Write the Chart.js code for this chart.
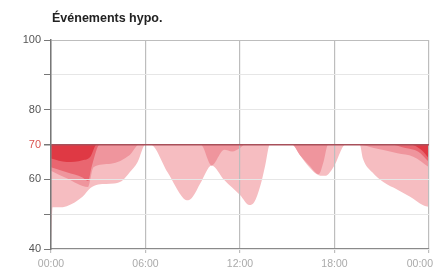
<!DOCTYPE html>
<html lang="fr">
<head>
<meta charset="utf-8">
<script src="https://cdn.jsdelivr.net/npm/chart.js@4"></script>
<style>
  html, body { margin: 0; padding: 0; background: #fff; }
  #cadre { width: 436px; height: 270px; position: relative; }
</style>
</head>
<body>
<div id="cadre"><canvas id="graphique"></canvas></div>
<script>
// Titre et seuil
const titre = 'Événements hypo.';
const seuilHypo = 70;

// Graduations
const graduationsY = [40, 50, 60, 70, 80, 90, 100];
const etiquettesY = [40, 60, 70, 80, 100];
const heuresX = [0, 6, 12, 18, 24];
const etiquettesX = ['00:00', '06:00', '12:00', '18:00', '00:00'];

// Courbe la plus basse (rose clair)
const heuresC1 = [0, 0.1, 0.5, 1, 2, 2.5, 3, 4, 4.5, 5, 5.5, 6, 6.3, 7.4, 8.4, 8.7, 9.0, 9.5, 10.2, 11.0, 12.0, 12.6, 12.9, 13.3, 13.6, 13.9, 15.3, 15.8, 16.4, 17.0, 17.4, 18.0, 18.7, 19.6, 19.8, 20.4, 21.1, 22.0, 22.8, 23.6, 24];
const valeursC1 = [40, 52, 52, 52.3, 55, 57.5, 58.5, 58.8, 59.5, 62, 65, 70, 70, 62, 54.6, 54, 55, 59, 64, 59.8, 55.5, 52.6, 53.4, 58.3, 64, 70, 70, 67, 63.5, 61.2, 61, 64, 70, 70, 66, 62, 59.2, 57, 55, 52.6, 52];

// Deuxième courbe (rose)
const heuresC2 = [0, 1, 2.35, 2.7, 3.8, 5.0, 5.6, 9.5, 10.2, 11.0, 11.5, 12.0, 12.3, 15.3, 15.8, 16.4, 17.0, 17.3, 17.6, 19.5, 20.5, 22.0, 23.0, 24];
const valeursC2 = [62.5, 60.3, 57.8, 63.5, 64.5, 67, 70, 70, 64, 68.5, 68, 69, 70, 70, 67, 64, 61.5, 65, 70, 70, 69, 67.5, 66.5, 63.5];

// Troisième courbe (rouge)
const heuresC3 = [0, 1, 2, 2.35, 2.6, 3.1, 21.5, 22.5, 23.3, 24];
const valeursC3 = [63.5, 62, 60.5, 59.5, 64, 70, 70, 69, 68, 65];

// Quatrième courbe (rouge foncé)
const heuresC4 = [0, 1, 2, 2.5, 2.9, 22.8, 23.5, 24];
const valeursC4 = [66, 65, 65.5, 66.5, 70, 70, 68.5, 66];

const couches = [
  { heures: heuresC1, valeurs: valeursC1, couleur: '#f6bdc1' },
  { heures: heuresC2, valeurs: valeursC2, couleur: '#ef959d' },
  { heures: heuresC3, valeurs: valeursC3, couleur: '#e96670' },
  { heures: heuresC4, valeurs: valeursC4, couleur: '#df3944' }
];

const police = '"Liberation Sans", Arial, sans-serif';

// Titre au-dessus de la zone, et dernière étiquette de l'axe x calée à droite
const titrePlugin = {
  id: 'titre',
  afterDraw(chart) {
    const c = chart.ctx;
    const sx = chart.scales.x;
    c.save();
    c.font = 'bold 12.5px ' + police;
    c.fillStyle = '#222';
    c.textBaseline = 'middle';
    c.fillText(titre, chart.chartArea.left + 1, chart.chartArea.top - 21);
    c.font = '10.5px ' + police;
    c.fillStyle = '#aaa';
    c.textAlign = 'right';
    c.textBaseline = 'top';
    c.fillText(etiquettesX[etiquettesX.length - 1], sx.getPixelForValue(heuresX[heuresX.length - 1]) + 4, sx.top + 10);
    c.restore();
  }
};

const ctx = document.getElementById('graphique').getContext('2d');
const graphique = new Chart(ctx, {
  type: 'line',
  data: {
    datasets: couches.map(function(c, i) {
      return {
        data: c.heures.map(function(h, j) { return { x: h, y: c.valeurs[j] }; }),
        backgroundColor: c.couleur,
        borderWidth: 0,
        pointRadius: 0,
        cubicInterpolationMode: 'monotone',
        fill: { value: seuilHypo },
        order: couches.length - i
      };
    })
  },
  options: {
    responsive: true,
    maintainAspectRatio: false,
    animation: false,
    layout: { padding: { top: 40, right: 7, bottom: 0, left: 0 } },
    plugins: {
      legend: { display: false },
      tooltip: { enabled: false }
    },
    scales: {
      x: {
        type: 'linear',
        min: 0,
        max: 24,
        afterBuildTicks: function(s) { s.ticks = heuresX.map(function(v) { return { value: v }; }); },
        afterFit: function(s) { s.paddingLeft = 0; s.paddingRight = 0; s.height = 21; },
        ticks: {
          font: { family: police, size: 10.5 },
          color: '#aaa',
          padding: 5,
          maxRotation: 0,
          callback: function(v) { return v === 24 ? '' : etiquettesX[heuresX.indexOf(v)]; }
        },
        grid: { color: '#bdbdbd', lineWidth: 1.2, tickLength: 4, tickColor: '#bdbdbd', z: 1 },
        border: { color: '#8a8a8a', width: 1.2, z: 1 }
      },
      y: {
        min: 40,
        max: 100,
        afterBuildTicks: function(s) { s.ticks = graduationsY.map(function(v) { return { value: v }; }); },
        afterFit: function(s) { s.width = 51; },
        ticks: {
          font: { family: police, size: 11 },
          padding: 3,
          color: function(c) { return c.tick.value === seuilHypo ? '#d9534f' : '#555'; },
          callback: function(v) { return etiquettesY.includes(v) ? v : ''; }
        },
        grid: {
          z: 1,
          tickLength: 7,
          tickColor: '#777',
          lineWidth: function(c) { return c.tick.value === seuilHypo ? 1.5 : 1; },
          color: function(c) {
            if (c.tick.value === seuilHypo) return '#a8505a';
            if (c.tick.value === 100) return '#bdbdbd';
            return '#e6e6e6';
          }
        },
        border: { color: '#777', width: 1.5, z: 1 }
      }
    }
  },
  plugins: [titrePlugin]
});
</script>
</body>
</html>
